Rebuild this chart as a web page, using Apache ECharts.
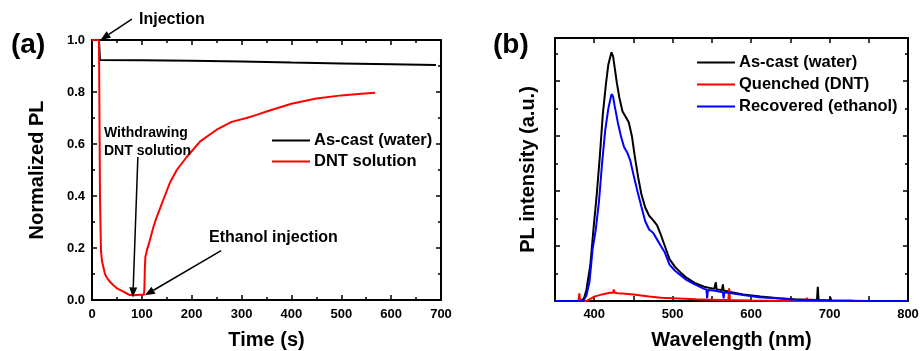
<!DOCTYPE html>
<html>
<head>
<meta charset="utf-8">
<script src="https://cdn.jsdelivr.net/npm/echarts@6/dist/echarts.min.js"></script>
<style>
html,body{margin:0;padding:0;background:#fff;overflow:hidden;}
#c{width:921px;height:351px;}
</style>
</head>
<body>
<div id="c"></div>
<script>
// ---- Panel (a): normalized PL vs time ----
const timeAsCast = [0, 14, 15, 16, 100, 200, 300, 400, 500, 600, 690];
const plAsCast   = [1.0, 1.0, 1.0, 0.923, 0.922, 0.920, 0.917, 0.913, 0.910, 0.907, 0.904];

const timeDNT = [0, 14, 15, 16, 18, 20, 23, 26, 30, 36, 43, 50, 57, 63, 70, 76, 80, 85, 95, 104, 105, 106, 107, 110, 116, 123, 130, 138, 146, 156, 170, 190, 217, 250, 280, 310, 330, 350, 400, 450, 500, 540, 568];
const plDNT   = [1.0, 1.0, 1.0, 0.40, 0.19, 0.15, 0.125, 0.10, 0.085, 0.07, 0.057, 0.045, 0.038, 0.032, 0.025, 0.019, 0.016, 0.018, 0.02, 0.02, 0.04, 0.12, 0.165, 0.19, 0.23, 0.28, 0.32, 0.36, 0.40, 0.45, 0.50, 0.55, 0.61, 0.655, 0.685, 0.70, 0.712, 0.725, 0.755, 0.775, 0.787, 0.793, 0.797];

// ---- Panel (b): PL spectra ----
const wlAsCast  = [350, 383, 387, 390, 395, 399, 403, 407, 411, 415, 418, 422, 424, 426, 429, 432, 436, 440, 444, 448, 452, 456, 460, 465, 470, 475, 480, 485, 490, 496, 503, 510, 518, 528, 540, 553, 555, 556, 563, 564, 565, 575, 590, 612, 635, 655, 684, 685, 686, 700, 701, 702, 730, 800];
const intAsCast = [0, 0, 0.05, 0.2, 0.65, 1.3, 1.9, 2.6, 3.4, 3.95, 4.3, 4.52, 4.45, 4.25, 3.95, 3.7, 3.45, 3.35, 3.25, 3.0, 2.6, 2.25, 1.95, 1.7, 1.55, 1.47, 1.38, 1.2, 1.0, 0.76, 0.62, 0.52, 0.42, 0.33, 0.26, 0.22, 0.34, 0.21, 0.2, 0.30, 0.19, 0.16, 0.12, 0.08, 0.05, 0.03, 0.02, 0.26, 0.02, 0.01, 0.07, 0.01, 0.005, 0];

const wlQuenched  = [350, 380, 381, 382, 390, 395, 400, 410, 420, 424, 425, 426, 430, 440, 450, 460, 470, 485, 500, 530, 560, 571, 572, 573, 600, 640, 670, 671, 672, 800];
const intQuenched = [0, 0, 0.14, 0, 0, 0.04, 0.08, 0.12, 0.15, 0.15, 0.21, 0.15, 0.14, 0.13, 0.12, 0.10, 0.08, 0.06, 0.05, 0.03, 0.02, 0.02, 0.23, 0.02, 0.01, 0, 0, 0.06, 0, 0];

const wlRecovered  = [350, 386, 390, 394, 398, 402, 406, 410, 414, 418, 422, 424, 426, 430, 434, 438, 442, 446, 450, 455, 460, 465, 470, 475, 480, 485, 490, 496, 503, 510, 518, 527, 540, 543, 544, 545, 552, 564, 565, 566, 575, 590, 610, 633, 660, 700, 750, 800];
const intRecovered = [0, 0, 0.1, 0.35, 0.95, 1.3, 1.8, 2.5, 3.1, 3.5, 3.76, 3.72, 3.55, 3.25, 3.0, 2.8, 2.7, 2.55, 2.3, 2.0, 1.72, 1.45, 1.3, 1.24, 1.12, 1.0, 0.88, 0.66, 0.55, 0.47, 0.38, 0.31, 0.22, 0.21, 0.05, 0.2, 0.19, 0.16, 0.05, 0.16, 0.14, 0.11, 0.07, 0.05, 0.02, 0.01, 0, 0];

const zip = (xs, ys) => xs.map((x, i) => [x, ys[i]]);

const FONT = '"Liberation Sans", Arial, sans-serif';
const lbl = {color: '#000', fontWeight: 'bold', fontSize: 13, fontFamily: FONT};
const axLine = {show: true, onZero: false, lineStyle: {color: '#000', width: 2}};
const tick = {show: true, inside: true, length: 5, lineStyle: {color: '#000', width: 1.5}};
const minor = {show: true, splitNumber: 2, length: 3, lineStyle: {color: '#000', width: 1.5}};

function ax(grid, pos, min, max, interval, showLabel, fmt, name, gap, withMinor, margin) {
  return {
    type: 'value', gridIndex: grid, position: pos, min, max, interval,
    axisLine: axLine, axisTick: tick,
    minorTick: withMinor ? minor : {show: false},
    splitLine: {show: false},
    axisLabel: showLabel ? Object.assign({margin: margin || 8, formatter: fmt}, lbl) : {show: false},
    name: name || '', nameLocation: 'middle', nameGap: gap || 0,
    nameTextStyle: {color: '#000', fontWeight: 'bold', fontSize: 20, fontFamily: FONT}
  };
}

const chart = echarts.init(document.getElementById('c'), null, {renderer: 'canvas'});

const legendText = {color: '#000', fontWeight: 'bold', fontSize: 16.5, fontFamily: FONT};
const option = {
  animation: false,
  backgroundColor: '#fff',
  grid: [
    {left: 92, top: 40, width: 349, height: 260, containLabel: false, outerBoundsMode: 'none'},
    {left: 555, top: 38, width: 353, height: 263, containLabel: false, outerBoundsMode: 'none'}
  ],
  xAxis: [
    ax(0, 'bottom', 0, 700, 100, true, v => String(v), 'Time (s)', 30, true, 8),
    ax(0, 'top', 0, 700, 100, false, null, '', 0, true),
    ax(1, 'bottom', 350, 800, 50, true, v => (v % 100 === 0 ? String(v) : ''), 'Wavelength (nm)', 29, false, 7),
    ax(1, 'top', 350, 800, 50, false, null, '', 0, false)
  ],
  yAxis: [
    ax(0, 'left', 0, 1, 0.2, true, v => v.toFixed(1), 'Normalized PL', 45, true, 7),
    ax(0, 'right', 0, 1, 0.2, false, null, '', 0, true),
    ax(1, 'left', 0, 4.78, 1, false, null, 'PL intensity (a.u.)', 17, true),
    ax(1, 'right', 0, 4.78, 1, false, null, '', 0, true)
  ],
  legend: [
    {
      left: 272, top: 132, padding: 0, orient: 'vertical', icon: 'rect', itemWidth: 38, itemHeight: 2, itemGap: 4,
      data: ['As-cast (water)', 'DNT solution'],
      textStyle: Object.assign({padding: [0, 0, 0, -1]}, legendText),
      selectedMode: false
    },
    {
      left: 697, top: 54, padding: 0, orient: 'vertical', icon: 'rect', itemWidth: 38, itemHeight: 2, itemGap: 5,
      data: ['As-cast (water) ', 'Quenched (DNT)', 'Recovered (ethanol)'],
      textStyle: Object.assign({padding: [0, 0, 0, -1]}, legendText),
      selectedMode: false
    }
  ],
  series: [
    {name: 'As-cast (water)', type: 'line', xAxisIndex: 0, yAxisIndex: 0, symbol: 'none',
     data: zip(timeAsCast, plAsCast), lineStyle: {color: '#000', width: 2}, itemStyle: {color: '#000'}},
    {name: 'DNT solution', type: 'line', xAxisIndex: 0, yAxisIndex: 0, symbol: 'none',
     data: zip(timeDNT, plDNT), lineStyle: {color: '#ff0000', width: 2}, itemStyle: {color: '#ff0000'}},
    {name: 'As-cast (water) ', type: 'line', xAxisIndex: 2, yAxisIndex: 2, symbol: 'none',
     data: zip(wlAsCast, intAsCast), lineStyle: {color: '#000', width: 2}, itemStyle: {color: '#000'}},
    {name: 'Quenched (DNT)', type: 'line', xAxisIndex: 2, yAxisIndex: 2, symbol: 'none',
     data: zip(wlQuenched, intQuenched), lineStyle: {color: '#ff0000', width: 2}, itemStyle: {color: '#ff0000'}},
    {name: 'Recovered (ethanol)', type: 'line', xAxisIndex: 2, yAxisIndex: 2, symbol: 'none',
     data: zip(wlRecovered, intRecovered), lineStyle: {color: '#0000ff', width: 2}, itemStyle: {color: '#0000ff'}}
  ]
};
chart.setOption(option);

// ---- annotations (arrows anchored in data space) ----
const arrows = [
  {from: [80, 1.08], to: [17, 1.0]},
  {from: [92, 0.55], to: [82, 0.01]},
  {from: [259, 0.19], to: [106, 0.018]}
];
const gfx = [];
arrows.forEach(a => {
  const p0 = chart.convertToPixel({xAxisIndex: 0, yAxisIndex: 0}, a.from);
  const p1 = chart.convertToPixel({xAxisIndex: 0, yAxisIndex: 0}, a.to);
  const dx = p1[0] - p0[0], dy = p1[1] - p0[1];
  const L = Math.hypot(dx, dy), ux = dx / L, uy = dy / L;
  const hl = 10, hw = 4;
  const bx = p1[0] - ux * hl, by = p1[1] - uy * hl;
  gfx.push({type: 'line', shape: {x1: p0[0], y1: p0[1], x2: bx, y2: by}, style: {stroke: '#000', lineWidth: 1.5}, z: 100});
  gfx.push({type: 'polygon', shape: {points: [[p1[0], p1[1]], [bx - uy * hw, by + ux * hw], [bx + uy * hw, by - ux * hw]]}, style: {fill: '#000'}, z: 100});
});
const txt = (x, y, t, size) => ({type: 'text', left: x, top: y, style: {text: t, fill: '#000', font: 'bold ' + size + 'px ' + FONT}, z: 100});
gfx.push(txt(139, 12, 'Injection', 16));
gfx.push(txt(104, 126, 'Withdrawing', 14));
gfx.push(txt(104, 144, 'DNT solution', 14));
gfx.push(txt(209, 230, 'Ethanol injection', 16));
gfx.push(txt(11, 31, '(a)', 28));
gfx.push(txt(493, 31, '(b)', 28));
chart.setOption({graphic: gfx});
</script>
</body>
</html>
